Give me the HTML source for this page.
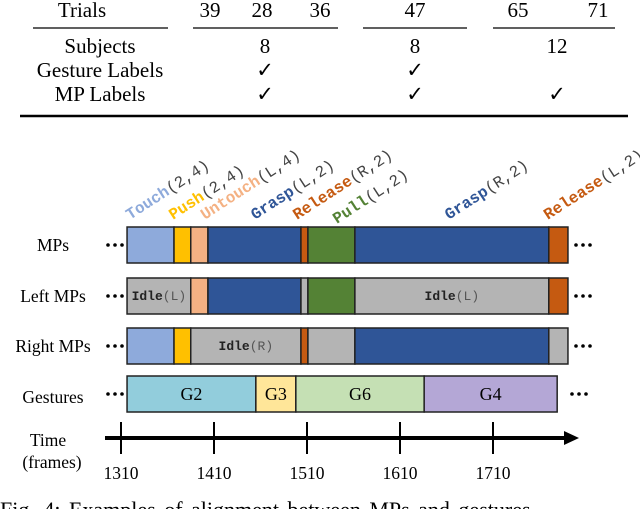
<!DOCTYPE html>
<html><head><meta charset="utf-8"><style>
body{margin:0;background:#fff;width:640px;height:509px;overflow:hidden}
svg{display:block}
.serif{font-family:"Liberation Serif",serif;fill:#000}
.mono{font-family:"Liberation Mono",monospace}
</style></head><body>
<svg id="fig" width="640" height="509" viewBox="0 0 640 509">
<g class="serif" font-size="21" text-anchor="middle">
<text x="82" y="17">Trials</text>
<text x="210" y="17">39</text>
<text x="262" y="17">28</text>
<text x="320" y="17">36</text>
<text x="415" y="17">47</text>
<text x="518" y="17">65</text>
<text x="598" y="17">71</text>
<line x1="33" y1="28" x2="168" y2="28" stroke="#000" stroke-width="1.2"/>
<line x1="193" y1="28" x2="338" y2="28" stroke="#000" stroke-width="1.2"/>
<line x1="363" y1="28" x2="467" y2="28" stroke="#000" stroke-width="1.2"/>
<line x1="493" y1="28" x2="615" y2="28" stroke="#000" stroke-width="1.2"/>
<text x="100" y="53">Subjects</text>
<text x="265" y="53">8</text>
<text x="415" y="53">8</text>
<text x="557" y="53">12</text>
<text x="100" y="77">Gesture Labels</text>
<text x="265" y="77">✓</text>
<text x="415" y="77">✓</text>
<text x="100" y="101">MP Labels</text>
<text x="265" y="101">✓</text>
<text x="415" y="101">✓</text>
<text x="557" y="101">✓</text>
<line x1="20" y1="116" x2="628" y2="116" stroke="#000" stroke-width="2.5"/>
</g>
<g id="chart"></g>
<text x="0" y="517" class="serif" font-size="22" word-spacing="3">Fig. 4:  Examples of alignment between MPs and gestures</text>
</svg>
<script>
const ticks=[1310,1410,1510,1610,1710];
const mpNames=["Touch","Push","Untouch","Grasp","Release","Pull","Grasp","Release"];
const mpArgs=["(2,4)","(2,4)","(L,4)","(L,2)","(R,2)","(L,2)","(R,2)","(L,2)"];
const mpBounds=[1316.5,1367,1385,1403.5,1503.5,1511,1561.5,1770,1790.6];
const leftLabels=["Idle","Untouch","Grasp","none","Pull","Idle","Release"];
const leftBounds=[1316.5,1385,1403.5,1503.5,1511,1561.5,1770,1790.6];
const rightLabels=["Touch","Push","Idle","Release","none","Grasp","none"];
const rightBounds=[1316.5,1367,1385,1503.5,1511,1561.5,1770,1790.6];
const gestures=["G2","G3","G6","G4"];
const gestBounds=[1316.5,1455,1498,1636,1779];
const C={Touch:"#8eaadb",Push:"#ffc000",Untouch:"#f4b183",Grasp:"#2f5597",Release:"#c55a11",Pull:"#548235",Idle:"#b4b4b4",none:"#b4b4b4"};
const GC={G2:"#92cddc",G3:"#ffe699",G6:"#c5e0b4",G4:"#b4a7d6"};
const NS="http://www.w3.org/2000/svg";
const g=document.getElementById('chart');
const px=f=>121+(f-1310)*0.93;
function el(t,a,p){const e=document.createElementNS(NS,t);for(const k in a)e.setAttribute(k,a[k]);(p||g).appendChild(e);return e;}
function row(y,h,labels,bounds,colors,name,idleArgs){
  for(let i=0;i<labels.length;i++){
    const x0=px(bounds[i]),x1=px(bounds[i+1]);
    const r=el('rect',{x:x0,y:y,width:x1-x0,height:h,fill:colors[labels[i]],stroke:'#222','stroke-width':1.5});
    
    
    if(labels[i]==='Idle'&&idleArgs){
      const t=el('text',{x:(x0+x1)/2,y:y+h/2+4,'text-anchor':'middle','font-size':13,'class':'mono'});
      
      
      const a=el('tspan',{'font-weight':'bold',fill:'#222'},t);a.textContent='Idle';
      const b=el('tspan',{fill:'#555'},t);b.textContent=idleArgs;
    }
    if(GC[labels[i]]){
      const t=el('text',{x:(x0+x1)/2,y:y+h/2+6,'text-anchor':'middle','font-size':18,'class':'serif'});
      
      
      t.textContent=labels[i];
    }
  }
}
function rowLabel(txt,y){
  const t=el('text',{x:53,y:y,'text-anchor':'middle','font-size':17.5,'class':'serif'});
  
  
  t.textContent=txt;
}
function dots(y,xl,xr){
  [xl,xr].forEach(x=>{for(let k=0;k<3;k++){const c=el('circle',{cx:x+k*7,cy:y,r:1.8,fill:'#000'});}});
}
row(227,36,mpNames,mpBounds,C,'mp');
row(278,36,leftLabels,leftBounds,C,'left-mp','(L)');
row(328,36,rightLabels,rightBounds,C,'right-mp','(R)');
row(376,36,gestures,gestBounds,GC,'gesture');
rowLabel('MPs',251);rowLabel('Left MPs',302);rowLabel('Right MPs',352);rowLabel('Gestures',403);
dots(245,108,576);dots(296,108,576);dots(346,108,576);dots(394,108,572);
const labelOffsets=[3,-1,14,47,-4,29,94,-1];
const labelDy=[0,0,0,0,0,4,0,0];
for(let i=0;i<mpNames.length;i++){
  const x=px(mpBounds[i])+labelOffsets[i];
  const y=220+labelDy[i];
  const t=el('text',{x:x,y:y,transform:`rotate(-33 ${x} ${y})`,'font-size':16,'class':'mono'});
  
  
  const a=el('tspan',{'font-weight':'bold',fill:C[mpNames[i]]},t);a.textContent=mpNames[i];
  const b=el('tspan',{fill:'#444'},t);b.textContent=mpArgs[i];
}
const ax=el('line',{x1:105,y1:438,x2:566,y2:438,stroke:'#000','stroke-width':4});

const ar=el('polygon',{points:'564,431 579,438 564,445',fill:'#000'});

ticks.forEach(v=>{
  const x=px(v);
  const l=el('line',{x1:x,y1:422,x2:x,y2:454,stroke:'#000','stroke-width':2});
  
  const t=el('text',{x:x,y:479,'text-anchor':'middle','font-size':17.5,'class':'serif'});
  
  t.textContent=v;
});
const t1=el('text',{x:48,y:446,'text-anchor':'middle','font-size':17.5,'class':'serif'});
t1.textContent='Time';
const t2=el('text',{x:52,y:468,'text-anchor':'middle','font-size':17.5,'class':'serif'});
t2.textContent='(frames)';
</script>
</body></html>
